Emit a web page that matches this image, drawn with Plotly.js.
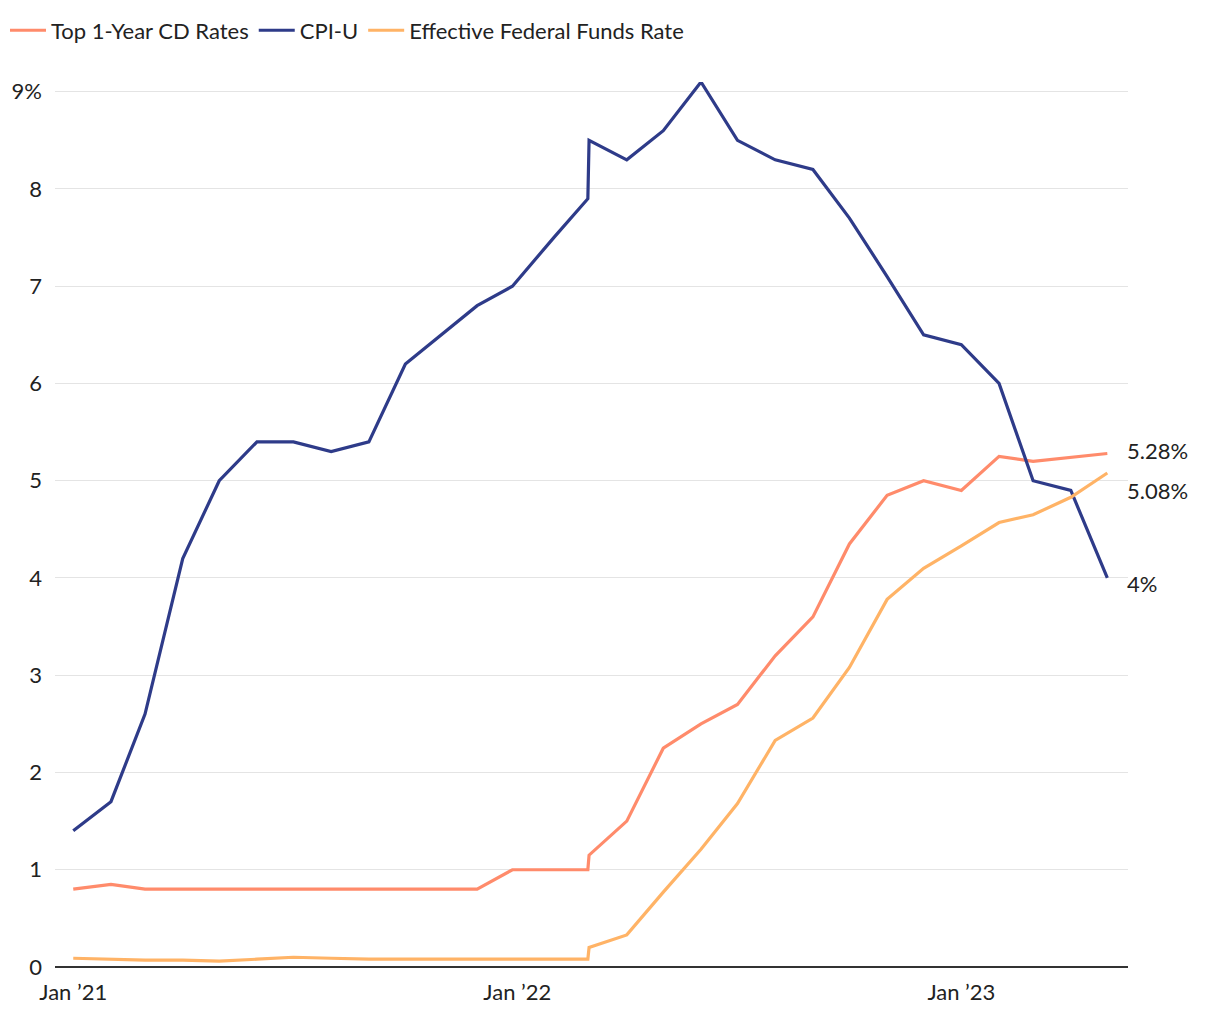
<!DOCTYPE html>
<html>
<head>
<meta charset="utf-8">
<script src="https://cdn.plot.ly/plotly-3.0.1.min.js"></script>
<style>
  html, body { margin: 0; padding: 0; background: #fff; }
  #chart { width: 1220px; height: 1020px; }
</style>
</head>
<body>
<div id="chart"></div>
<script>
// ---- data ----
const dates = [
  '2021-01-01','2021-02-01','2021-03-01','2021-04-01','2021-05-01','2021-06-01',
  '2021-07-01','2021-08-01','2021-09-01','2021-10-01','2021-11-29','2021-12-28',
  '2022-01-31','2022-02-28','2022-03-01','2022-04-01','2022-05-01','2022-06-01',
  '2022-07-01','2022-08-01','2022-09-01','2022-10-01','2022-11-01','2022-12-01',
  '2023-01-01','2023-02-01','2023-03-01','2023-04-01','2023-05-01'
];
const cdRates = [
  0.80, 0.85, 0.80, 0.80, 0.80, 0.80,
  0.80, 0.80, 0.80, 0.80, 0.80, 1.00,
  1.00, 1.00, 1.15, 1.50, 2.25, 2.50,
  2.70, 3.20, 3.60, 4.35, 4.85, 5.00,
  4.90, 5.25, 5.20, 5.24, 5.28
];
const cpiU = [
  1.4, 1.7, 2.6, 4.2, 5.0, 5.4,
  5.4, 5.3, 5.4, 6.2, 6.8, 7.0,
  7.5, 7.9, 8.5, 8.3, 8.6, 9.1,
  8.5, 8.3, 8.2, 7.7, 7.1, 6.5,
  6.4, 6.0, 5.0, 4.9, 4.0
];
const fedFunds = [
  0.09, 0.08, 0.07, 0.07, 0.06, 0.08,
  0.10, 0.09, 0.08, 0.08, 0.08, 0.08,
  0.08, 0.08, 0.20, 0.33, 0.77, 1.21,
  1.68, 2.33, 2.56, 3.08, 3.78, 4.10,
  4.33, 4.57, 4.65, 4.83, 5.08
];
const seriesNames = ['Top 1-Year CD Rates', 'CPI-U', 'Effective Federal Funds Rate'];
const endLabels = ['5.28%', '4%', '5.08%'];
const xTickVals = ['2021-01-01', '2022-01-01', '2023-01-01'];
const xTickText = ['Jan \u201921', 'Jan \u201922', 'Jan \u201923'];
const yTickVals = [0, 1, 2, 3, 4, 5, 6, 7, 8, 9];
const yTickText = ['0', '1', '2', '3', '4', '5', '6', '7', '8', '9%'];

// ---- styling ----
const colors = ['#FF8B6B', '#2E3B89', '#FFB366'];
const FONT = 'Lato, "Source Sans Pro", "Noto Sans", sans-serif';
const TXT = '#222222';
const FS = 22;

const allY = [cdRates, cpiU, fedFunds];
const traces = allY.map((ys, i) => ({
  type: 'scatter',
  mode: 'lines',
  name: seriesNames[i],
  x: dates,
  y: ys,
  line: { color: colors[i], width: 3.2 },
  hoverinfo: 'x+y+name'
}));

const yShifts = [3, -6, -18];
const annotations = allY.map((ys, i) => ({
  xref: 'paper', yref: 'y',
  x: 1, y: ys[ys.length - 1],
  xanchor: 'left', yanchor: 'middle',
  xshift: -3, yshift: yShifts[i],
  text: endLabels[i],
  showarrow: false,
  font: { family: FONT, size: FS, color: TXT }
}));

const layout = {
  width: 1220, height: 1020,
  margin: { l: 55, r: 92, t: 82, b: 53, autoexpand: false },
  paper_bgcolor: '#ffffff',
  plot_bgcolor: '#ffffff',
  font: { family: FONT, size: FS, color: TXT },
  showlegend: true,
  legend: {
    orientation: 'h',
    x: -0.0466, xanchor: 'left',
    y: 1.082, yanchor: 'top',
    font: { family: FONT, size: FS, color: TXT },
    itemwidth: 36,
    tracegroupgap: 0,
    bgcolor: 'rgba(0,0,0,0)'
  },
  xaxis: {
    type: 'date',
    range: ['2020-12-17', '2023-05-18'],
    tickmode: 'array',
    tickvals: xTickVals,
    ticktext: xTickText,
    showgrid: false,
    zeroline: false,
    showline: false,
    ticks: '',
    ticklabelstandoff: 10,
    tickfont: { family: FONT, size: FS, color: TXT },
    fixedrange: true
  },
  yaxis: {
    range: [0, 9.1],
    tickmode: 'array',
    tickvals: yTickVals,
    ticktext: yTickText,
    showgrid: true,
    gridcolor: '#e4e4e4',
    gridwidth: 1,
    zeroline: true,
    zerolinecolor: '#333333',
    zerolinewidth: 2.5,
    showline: false,
    ticks: '',
    ticklabelstandoff: 12,
    tickfont: { family: FONT, size: FS, color: TXT },
    fixedrange: true
  },
  annotations: annotations
};

Plotly.newPlot('chart', traces, layout, { displayModeBar: false, staticPlot: true });
</script>
</body>
</html>
